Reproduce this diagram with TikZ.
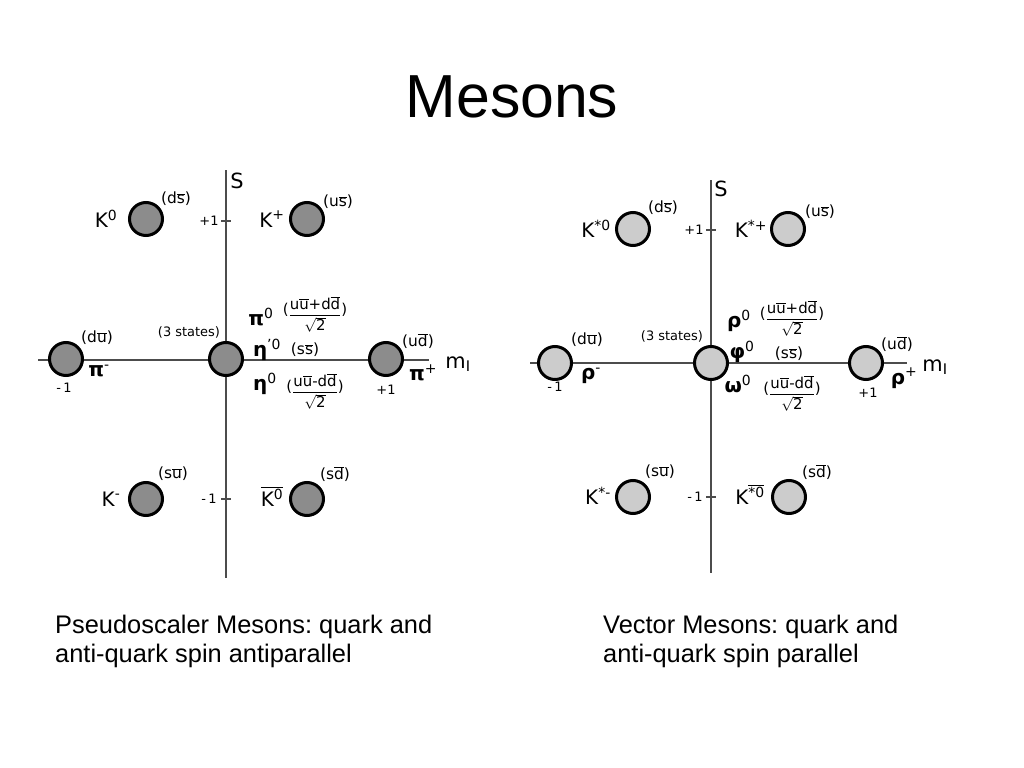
\documentclass[tikz,border=0pt]{standalone}
\usepackage{fontspec}
\setmainfont{DejaVu Sans}
\newfontfamily\capfont{Liberation Sans}
\usetikzlibrary{calc}
\frenchspacing

\newcommand{\qbar}[1]{\ensuremath{\overline{\mbox{#1}}}}
\newcommand{\qmix}[1]{\raisebox{0.55ex}{(}\ensuremath{\displaystyle\frac{\mbox{#1}}{\sqrt{\mbox{2}}}}\raisebox{0.55ex}{)}}

\tikzset{
	axis/.style={line width=1.6bp, draw=black!70},
	tickmark/.style={line width=1.2bp, draw=black!70},
	psmeson/.style={circle, draw=black, line width=3bp, fill=black!45, minimum size=33bp, inner sep=0pt},
	vecmeson/.style={psmeson, fill=black!20},
	pname/.style={font=\fontsize{20}{22}\selectfont, inner sep=0pt},
	quark/.style={font=\fontsize{15.5}{17}\selectfont, inner sep=0pt},
	mixlbl/.style={font=\fontsize{15}{17}\selectfont, inner sep=0pt},
	tiny/.style={font=\fontsize{13}{15}\selectfont, inner sep=0pt},
	axlbl/.style={font=\fontsize{21}{23}\selectfont, inner sep=0pt},
	caption/.style={font=\capfont\fontsize{25.5}{29}\selectfont, align=left, anchor=base west, inner sep=0pt}
}

\begin{document}
\begin{tikzpicture}[x=1bp,y=-1bp]
	\useasboundingbox (0,0) rectangle (1024,768);

	\node[font=\capfont\fontsize{61}{61}\selectfont] (title) at (512,97) {Mesons};

	% pseudoscalar nonet
	\coordinate (Ltop) at (226,170);
	\coordinate (Lbot) at (226,578);
	\coordinate (Lleft) at (38,360);
	\coordinate (Lright) at (429,360);
	\draw[axis] (Lleft) -- (Lright);
	\draw[axis] (Ltop) -- (Lbot);
	\coordinate (Lup) at (226,221);
	\coordinate (Ldn) at (226,499);
	\draw[tickmark] ($(Lup)+(-5,0)$) -- ($(Lup)+(5,0)$);
	\draw[tickmark] ($(Ldn)+(-5,0)$) -- ($(Ldn)+(5,0)$);
	\node[tiny] (Lp1) at (209,221) {+1};
	\node[tiny] (Lm1) at (209,499) {-\,1};
	\node[axlbl] (LS) at (237,181) {S};
	\node[axlbl] (Lm) at (458,364) {m\textsubscript{I}};

	\node[psmeson] (K0) at (146,219) {};
	\node[psmeson] (Kp) at (307,219) {};
	\node[psmeson] (pim) at (66,359) {};
	\node[psmeson] (pi0) at (226,359) {};
	\node[psmeson] (pip) at (386,359) {};
	\node[psmeson] (Km) at (146,499) {};
	\node[psmeson] (K0b) at (307,499) {};

	\node[pname] at (106,219) {K\textsuperscript{0}};
	\node[quark] at (176,199) {(d\qbar{s})};
	\node[pname] at (272,219) {K\textsuperscript{+}};
	\node[quark] at (338,202) {(u\qbar{s})};
	\node[quark] at (97,338) {(d\qbar{u})};
	\node[pname] at (99,371) {\textbf{π}\textsuperscript{-}};
	\node[tiny] at (64,388) {-\,1};
	\node[tiny] at (189,332) {(3 states)};
	\node[pname] at (261,317) {\textbf{π}\textsuperscript{0}};
	\node[mixlbl] at (315,314) {\qmix{u\qbar{u}+d\qbar{d}}};
	\node[pname] at (267,350) {\textbf{η}\textsuperscript{'0}};
	\node[quark] at (305,350) {(s\qbar{s})};
	\node[pname] at (265,384) {\textbf{η}\textsuperscript{0}};
	\node[mixlbl] at (315,391) {\qmix{u\qbar{u}-d\qbar{d}}};
	\node[quark] at (418,341) {(u\qbar{d})};
	\node[pname] at (423,373) {\textbf{π}\textsuperscript{+}};
	\node[tiny] at (386,390) {+1};
	\node[pname] at (111,499) {K\textsuperscript{-}};
	\node[quark] at (173,474) {(s\qbar{u})};
	\node[pname] at (272,497) {\qbar{K\textsuperscript{0}}};
	\node[quark] at (335,474) {(s\qbar{d})};

	% vector nonet
	\coordinate (Rtop) at (711,180);
	\coordinate (Rbot) at (711,573);
	\coordinate (Rleft) at (530,363);
	\coordinate (Rright) at (907,363);
	\draw[axis] (Rleft) -- (Rright);
	\draw[axis] (Rtop) -- (Rbot);
	\coordinate (Rup) at (711,230);
	\coordinate (Rdn) at (711,497);
	\draw[tickmark] ($(Rup)+(-5,0)$) -- ($(Rup)+(5,0)$);
	\draw[tickmark] ($(Rdn)+(-5,0)$) -- ($(Rdn)+(5,0)$);
	\node[tiny] (Rp1) at (694,230) {+1};
	\node[tiny] (Rm1) at (695,497) {-\,1};
	\node[axlbl] (RS) at (721,189) {S};
	\node[axlbl] (Rm) at (935,367) {m\textsubscript{I}};

	\node[vecmeson] (Ks0) at (633,229) {};
	\node[vecmeson] (Ksp) at (788,229) {};
	\node[vecmeson] (rhom) at (555,363) {};
	\node[vecmeson] (rho0) at (711,363) {};
	\node[vecmeson] (rhop) at (866,363) {};
	\node[vecmeson] (Ksm) at (633,497) {};
	\node[vecmeson] (Ks0b) at (789,497) {};

	\node[pname] at (596,229) {K\textsuperscript{*0}};
	\node[quark] at (663,208) {(d\qbar{s})};
	\node[pname] at (751,229) {K\textsuperscript{*+}};
	\node[quark] at (820,212) {(u\qbar{s})};
	\node[quark] at (587,340) {(d\qbar{u})};
	\node[pname] at (591,376) {\textbf{ρ}\textsuperscript{-}};
	\node[tiny] at (555,387) {-\,1};
	\node[tiny] at (672,336) {(3 states)};
	\node[pname] at (739,321) {\textbf{ρ}\textsuperscript{0}};
	\node[mixlbl] at (792,318) {\qmix{u\qbar{u}+d\qbar{d}}};
	\node[pname] at (742,352) {\textbf{φ}\textsuperscript{0}};
	\node[quark] at (789,354) {(s\qbar{s})};
	\node[pname] at (738,384) {\textbf{ω}\textsuperscript{0}};
	\node[mixlbl] at (792,393) {\qmix{u\qbar{u}-d\qbar{d}}};
	\node[quark] at (897,344) {(u\qbar{d})};
	\node[pname] at (904,378) {\textbf{ρ}\textsuperscript{+}};
	\node[tiny] at (868,393) {+1};
	\node[pname] at (598,496) {K\textsuperscript{*-}};
	\node[quark] at (660,472) {(s\qbar{u})};
	\node[pname] at (750,495) {K\textsuperscript{\qbar{*0}}};
	\node[quark] at (817,472) {(s\qbar{d})};

	\node[caption] (Lcap) at (55,662) {Pseudoscaler Mesons: quark and\\anti-quark spin antiparallel};
	\node[caption] (Rcap) at (603,662) {Vector Mesons: quark and\\anti-quark spin parallel};
\end{tikzpicture}
\end{document}
